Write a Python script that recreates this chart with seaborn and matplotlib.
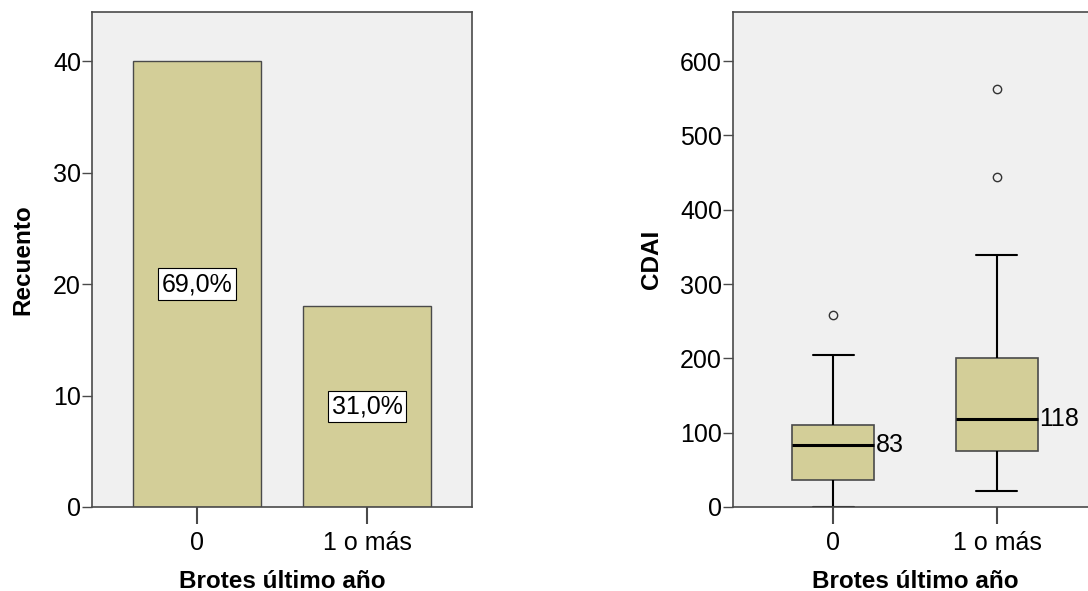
import numpy as np
import pandas as pd
import matplotlib
matplotlib.use("Agg")
import matplotlib.pyplot as plt
import seaborn as sns

# ---- data ----
categories = ["0", "1 o más"]
counts = [40, 18]
percent_labels = ["69,0%", "31,0%"]

# CDAI values per group (summary points: whisker low, Q1, median, Q3, whisker high, outliers)
cdai_group0 = [0, 36, 36, 83, 83, 111, 111, 204, 259]
cdai_group1 = [22, 75, 75, 75, 118, 118, 118, 200, 200, 200, 339, 444, 563]
medians = [83, 118]

sns.set_theme(style="white")
plt.rcParams['font.family'] = ['Liberation Sans', 'DejaVu Sans']
plt.rcParams['text.color'] = 'black'
plt.rcParams['axes.labelcolor'] = 'black'
plt.rcParams['xtick.labelcolor'] = 'black'
plt.rcParams['ytick.labelcolor'] = 'black'

FILL = "#D3CE98"
BG = "#F0F0F0"
EDGE = "#4A4A4A"
TICK_FS = 18
LABEL_FS = 17.5

fig = plt.figure(figsize=(10.88, 5.91), dpi=100)
ax1 = fig.add_axes([92/1088, 84/591, 380/1088, 495/591])
ax2 = fig.add_axes([733/1088, 84/591, 364/1088, 495/591])

# ---- left: bar chart ----
bar_df = pd.DataFrame({"cat": categories, "n": counts})
sns.barplot(data=bar_df, x="cat", y="n", ax=ax1, color=FILL, width=0.753,
            edgecolor=EDGE, linewidth=1.0, saturation=1)
ax1.set_facecolor(BG)
ax1.set_xlim(-0.618, 1.618)
ax1.set_ylim(0, 44.4)
ax1.set_yticks([0, 10, 20, 30, 40])
for i, (c, lab) in enumerate(zip(counts, percent_labels)):
    ax1.text(i, c / 2, lab, ha="center", va="center", fontsize=TICK_FS, color="black",
             bbox=dict(boxstyle="square,pad=0.15", fc="white", ec="black", lw=0.8))
ax1.set_ylabel("Recuento", fontsize=LABEL_FS, fontweight="bold", labelpad=13)
ax1.set_xlabel("Brotes último año", fontsize=LABEL_FS, fontweight="bold", labelpad=11)

# ---- right: boxplot ----
box_df = pd.DataFrame({
    "cat": [categories[0]] * len(cdai_group0) + [categories[1]] * len(cdai_group1),
    "CDAI": cdai_group0 + cdai_group1,
})
sns.boxplot(data=box_df, x="cat", y="CDAI", ax=ax2, color=FILL, width=0.5, saturation=1,
            linecolor=EDGE, linewidth=1.2, whis=1.5,
            boxprops=dict(edgecolor=EDGE),
            whiskerprops=dict(color="black", linewidth=1.5),
            capprops=dict(color="black", linewidth=1.5),
            medianprops=dict(color="black", linewidth=2.2),
            flierprops=dict(marker="o", markersize=6, markerfacecolor="none",
                            markeredgecolor="#333333", markeredgewidth=1.0))
ax2.set_facecolor(BG)
ax2.set_xlim(-0.61, 1.61)
ax2.set_ylim(0, 666)
ax2.set_yticks([0, 100, 200, 300, 400, 500, 600])
for i, m in enumerate(medians):
    ax2.text(i + 0.26, m, str(m), ha="left", va="center", fontsize=TICK_FS, color="black")
ax2.set_ylabel("CDAI", fontsize=LABEL_FS, fontweight="bold", labelpad=12)
ax2.set_xlabel("Brotes último año", fontsize=LABEL_FS, fontweight="bold", labelpad=11)

for ax in (ax1, ax2):
    for s in ax.spines.values():
        s.set_visible(True)
        s.set_color(EDGE)
        s.set_linewidth(1.2)
        s.set_zorder(5)
    ax.tick_params(axis="y", which="both", left=True, length=7, width=1, color=EDGE,
                   labelsize=TICK_FS, pad=1, labelcolor="black")
    ax.tick_params(axis="x", which="both", bottom=True, length=12, width=1.5, color=EDGE,
                   labelsize=TICK_FS, pad=5, labelcolor="black")
    ax.grid(False)

fig.savefig("out.png", dpi=100)
